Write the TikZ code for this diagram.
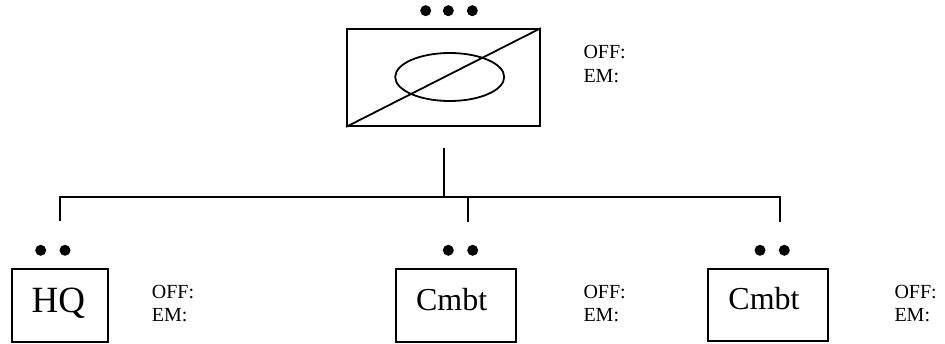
\documentclass[tikz,border=0pt]{standalone}
\usepackage{fontspec}
\setmainfont{Liberation Serif}
\usetikzlibrary{shapes.geometric}
\begin{document}
\begin{tikzpicture}[x=1pt,y=-1pt,
  ln/.style={line width=1.8pt},
  boxnode/.style={draw,line width=1.8pt,inner sep=0pt},
  dotnode/.style={circle,fill=black,inner sep=0pt,minimum size=11pt},
  small/.style={font=\fontsize{20}{24}\selectfont,inner sep=0pt,anchor=base west},
  big/.style={font=\fontsize{32}{38}\selectfont,inner sep=0pt,anchor=base},
  bigger/.style={font=\fontsize{37}{44}\selectfont,inner sep=0pt,anchor=base}]
\useasboundingbox (0,0) rectangle (945,343);
% top unit
\node[dotnode] (td1) at (425.7,10.7) {};
\node[dotnode] (td2) at (448.3,10.7) {};
\node[dotnode] (td3) at (472.3,10.7) {};
\node[boxnode,minimum width=193pt,minimum height=97pt] (top) at (443.5,77.5) {};
\node[draw,ellipse,line width=1.8pt,minimum width=109pt,minimum height=48pt,inner sep=0pt] (ell) at (449.7,77) {};
\draw[ln] (top.south west) -- (top.north east);
\node[small] (toff) at (583.3,58) {OFF:};
\node[small] (tem) at (583.3,82.5) {EM:};
% connectors
\coordinate (stemtop) at (444,148.3);
\coordinate (stembot) at (444,197);
\coordinate (busl) at (60,197);
\coordinate (busm) at (468,197);
\coordinate (busr) at (780,197);
\coordinate (dl) at (60,220.5);
\coordinate (dm) at (468,221.5);
\coordinate (dr) at (780,221.5);
\draw[ln] (stemtop) -- (stembot);
\draw[ln] (dl) -- (busl) -- (busr) -- (dr);
\draw[ln] (busm) -- (dm);
% HQ
\node[dotnode] (hd1) at (40.7,250.3) {};
\node[dotnode] (hd2) at (65,250.3) {};
\node[boxnode,minimum width=96pt,minimum height=73pt] (hq) at (60.3,305.8) {};
\node[bigger] (hqt) at (58.3,312.7) {HQ};
\node[small] (hoff) at (151.7,298.5) {OFF:};
\node[small] (hem) at (151.7,321.7) {EM:};
% middle Cmbt
\node[dotnode] (md1) at (448.3,250.3) {};
\node[dotnode] (md2) at (472.7,250.3) {};
\node[boxnode,minimum width=120.3pt,minimum height=73pt] (mid) at (455.8,305.8) {};
\node[big] (midt) at (451.7,310) {Cmbt};
\node[small] (moff) at (583.3,298.5) {OFF:};
\node[small] (mem) at (583.3,321.7) {EM:};
% right Cmbt
\node[dotnode] (rd1) at (760,250.3) {};
\node[dotnode] (rd2) at (784.3,250.3) {};
\node[boxnode,minimum width=120pt,minimum height=72pt] (rgt) at (767.7,305) {};
\node[big] (rgtt) at (764,309.3) {Cmbt};
\node[small] (roff) at (894.3,298.5) {OFF:};
\node[small] (rem) at (894.3,321.7) {EM:};
\end{tikzpicture}
\end{document}
